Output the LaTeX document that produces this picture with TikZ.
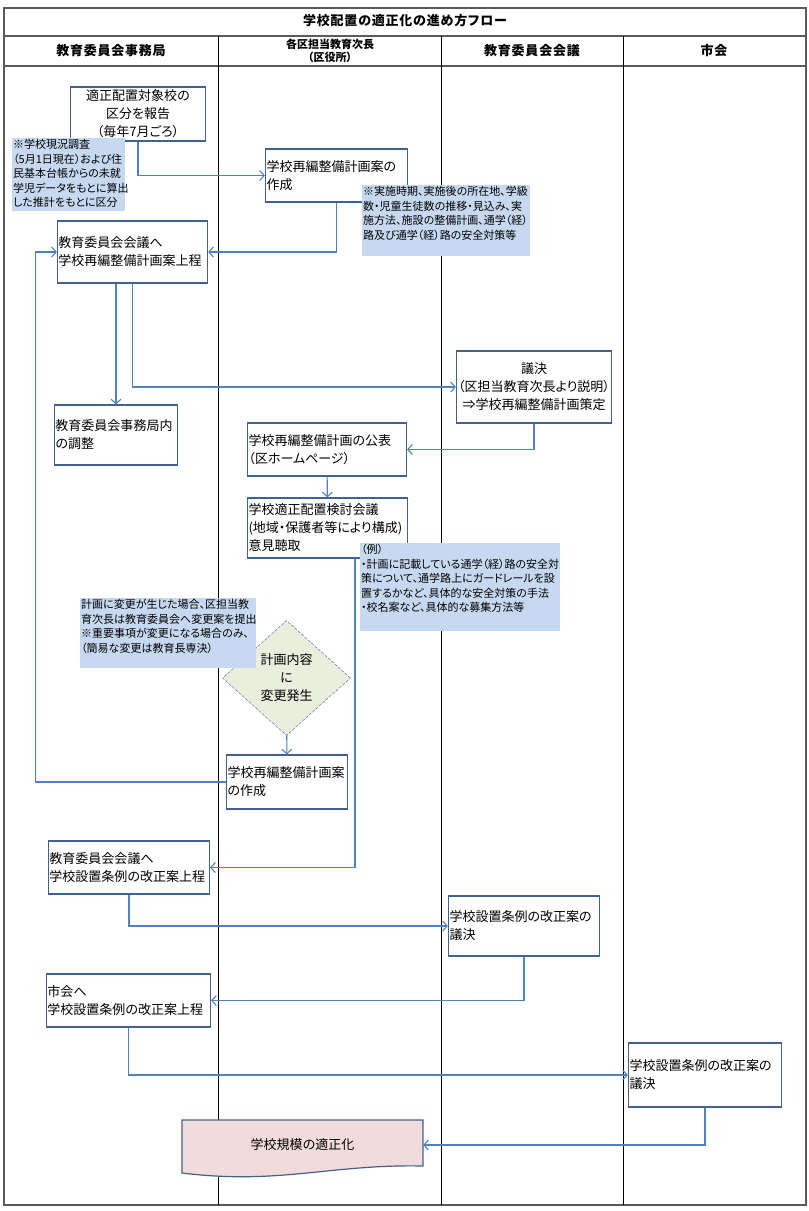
\documentclass[tikz,border=0pt]{standalone}
\usepackage{fontspec}
\setmainfont{Noto Sans CJK JP}[RawFeature=+palt]
\usetikzlibrary{arrows.meta,shapes.geometric}
\definecolor{boxline}{RGB}{65,98,142}
\definecolor{flowline}{RGB}{79,129,189}
\definecolor{notefill}{RGB}{198,217,241}
\definecolor{diafill}{RGB}{234,238,221}
\definecolor{docfill}{RGB}{242,220,219}
\definecolor{frameline}{RGB}{90,90,90}

\begin{document}
\begin{tikzpicture}[x=1bp, y=-1bp,
	stepbox/.style={draw=boxline, line width=1.2bp, fill=white, inner sep=1bp, align=left, font=\fontsize{13bp}{18bp}\selectfont},
	notebox/.style={fill=notefill, inner sep=1bp, anchor=north west, font=\fontsize{11bp}{14.5bp}\selectfont},
	flow/.style={draw=flowline, line width=1.1bp, -{Straight Barb[length=4.5bp,width=10bp]}},
	lane/.style={line width=0.8bp},
	head/.style={font=\bfseries\fontsize{13bp}{15bp}\selectfont\addfontfeature{LetterSpace=6}}]
		%%%%% START %%%%%
		\useasboundingbox (0,0) rectangle (809,1211);
		
		\draw[frameline, line width=1.2bp] (4,8) rectangle (806,1205);
		\draw[frameline, line width=1.2bp] (4,36) -- (806,36);
		\draw[frameline, line width=2.2bp] (4,66) -- (806,66);
		\draw[lane] (218,36) -- (218,1205);
		\draw[lane] (441,36) -- (441,1205);
		\draw[lane] (623,36) -- (623,1205);
		
		\node[head] (title) at (405,21) {学校配置の適正化の進め方フロー};
		\node[head] (office) at (111,51) {教育委員会事務局};
		\node[font=\bfseries\fontsize{11bp}{13bp}\selectfont, align=center] (ward) at (330,51) {各区担当教育次長\\（区役所）};
		\node[head] (board) at (532,51) {教育委員会会議};
		\node[head] (city) at (714,51) {市会};
		
		\fill[docfill] (182,1120) -- (423,1120) -- (423,1166) .. controls (330,1164) and (280,1185) .. (182,1173) -- cycle;
		\draw[boxline, line width=1.2bp] (182,1120) -- (423,1120) -- (423,1166) .. controls (330,1164) and (280,1185) .. (182,1173) -- cycle;
		\node[minimum width=241bp, minimum height=50bp, font=\fontsize{13bp}{18bp}\selectfont] (result) at (302.5,1145) {学校規模の適正化};
		
		\node[stepbox, align=center, text width=133bp, minimum height=54bp] (report) at (138,114) {適正配置対象校の\\区分を報告\\（毎年7月ごろ）};
		\node[stepbox, text width=140bp, minimum height=53bp] (draft) at (336.5,175.5) {学校再編整備計画案の\\作成};
		\node[stepbox, text width=148bp, minimum height=62bp] (submitplan) at (132.5,252) {教育委員会会議へ\\学校再編整備計画案上程};
		\node[stepbox, text width=121bp, minimum height=60bp] (adjust) at (116,435) {教育委員会事務局内\\の調整};
		\node[stepbox, align=center, text width=153bp, minimum height=72bp] (decideplan) at (534,387) {議決\\（区担当教育次長より説明）\\⇒学校再編整備計画策定};
		\node[stepbox, text width=157bp, minimum height=53bp] (publish) at (327,449.5) {学校再編整備計画の公表\\（区ホームページ）};
		\node[stepbox, text width=158bp, minimum height=60bp] (hearing) at (327.5,528) {学校適正配置検討会議\\(地域・保護者等により構成)\\意見聴取};
		\node[diamond, draw=boxline, dash pattern=on 3bp off 1.5bp, fill=diafill, inner sep=0pt, minimum width=128bp, minimum height=115bp, align=center, font=\fontsize{13bp}{18bp}\selectfont] (change) at (286.5,678) {計画内容\\に\\変更発生};
		\node[stepbox, text width=119bp, minimum height=54bp] (redraft) at (287,782) {学校再編整備計画案\\の作成};
		\node[stepbox, text width=159bp, minimum height=53bp] (submitrule) at (129,867.5) {教育委員会会議へ\\学校設置条例の改正案上程};
		\node[stepbox, text width=149bp, minimum height=60bp] (decideboard) at (524,926) {学校設置条例の改正案の\\議決};
		\node[stepbox, text width=162bp, minimum height=53bp] (submitcity) at (128.5,1000.5) {市会へ\\学校設置条例の改正案上程};
		\node[stepbox, text width=151bp, minimum height=64bp] (decidecity) at (705,1075) {学校設置条例の改正案の\\議決};
		
		\draw[flow] (report.south) |- (draft.west);
		\draw[flow] (draft.south) |- (submitplan.east);
		\draw[flow] (submitplan.south -| adjust.north) -- (adjust.north);
		\draw[flow] (submitplan.south) |- (decideplan.west);
		\draw[flow] (decideplan.south) |- (publish.east);
		\draw[flow] (publish) -- (hearing);
		\draw[flow] ([xshift=27.5bp]hearing.south) |- (submitrule.east);
		\draw[flow] (change) -- (redraft);
		\draw[flow] (redraft.west) -- ++(-190,0) |- (submitplan.west);
		\draw[flow] (submitrule.south) |- (decideboard.west);
		\draw[flow] (decideboard.south) |- (submitcity.east);
		\draw[flow] (submitcity.south) |- (decidecity.west);
		\draw[flow] (decidecity.south) |- (result.east);
		
		\node[notebox] (survey) at (12,138) {\parbox[c][71bp][t]{111bp}{※学校現況調査\\（5月1日現在）および住\\民基本台帳からの未就\\学児データをもとに算出\\した推計をもとに区分}};
		\node[notebox] (contents) at (362,185) {\parbox[c][69bp][t]{166bp}{※実施時期、実施後の所在地、学級\\数・児童生徒数の推移・見込み、実\\施方法、施設の整備計画、通学（経）\\路及び通学（経）路の安全対策等}};
		\node[notebox] (example) at (360,543) {\parbox[c][86bp][t]{198bp}{（例）\\・計画に記載している通学（経）路の安全対\\策について、通学路上にガードレールを設\\置するかなど、具体的な安全対策の手法\\・校名案など、具体的な募集方法等}};
		\node[notebox] (amend) at (80,598) {\parbox[c][68bp][t]{174bp}{計画に変更が生じた場合、区担当教\\育次長は教育委員会へ変更案を提出\\※重要事項が変更になる場合のみ、\\（簡易な変更は教育長専決）}};
		%%%%% END %%%%%
	\end{tikzpicture}
\end{document}
